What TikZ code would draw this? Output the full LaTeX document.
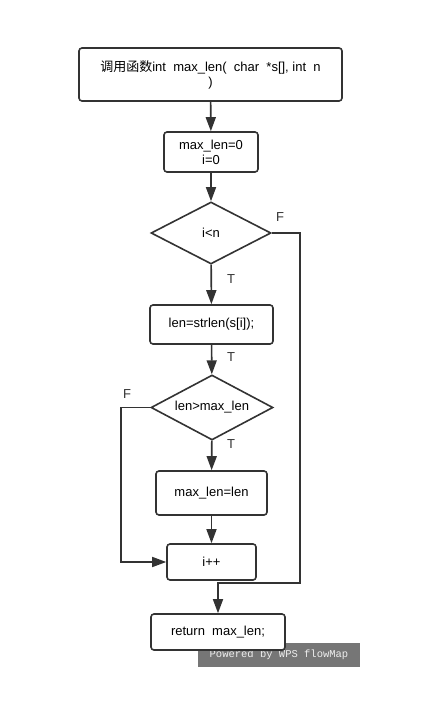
\documentclass[tikz,border=0pt]{standalone}
\usepackage{fontspec}
\setmainfont{Liberation Sans}
\newfontfamily\cjk{Noto Sans CJK SC}
\newfontfamily\wmfont{Liberation Mono}
\usetikzlibrary{arrows.meta,shapes.geometric}
\definecolor{linegray}{RGB}{51,51,51}
\definecolor{wmgray}{RGB}{118,118,118}
\definecolor{wmtext}{RGB}{238,238,238}

\begin{document}
\begin{tikzpicture}[x=1pt,y=-1pt,
    stepbox/.style={draw=linegray,fill=white,line width=1.6pt,rounded corners=3pt,
      align=center,inner sep=0pt,font=\fontsize{13}{15}\selectfont},
    testbox/.style={draw=linegray,fill=white,line width=1.6pt,shape=diamond,aspect=2,
      inner sep=0pt,font=\fontsize{13}{15}\selectfont},
    flow/.style={draw=linegray,line width=1.6pt,-{Triangle[length=14pt,width=10pt]}},
    tf/.style={font=\fontsize{13}{15}\selectfont,text=linegray}]
  \useasboundingbox (0,0) rectangle (422,711);

  % watermark
  \node[fill=wmgray,minimum width=162,minimum height=24,inner sep=0pt,
    text=wmtext,font=\wmfont\fontsize{10.5}{12}\selectfont] (wm) at (279,655) {Powered by WPS flowMap};

  % steps
  \node[stepbox,minimum width=263,minimum height=53] (call) at (210.5,74.5)
    {{\cjk 调用函数}int\ \ max\_len(\ \ char\ \ *s[], int\ \ n\\)};
  \node[stepbox,minimum width=94,minimum height=40] (init) at (211,152) {max\_len=0\\i=0};
  \node[testbox,minimum width=120,minimum height=62] (cond1) at (211,233) {i<n};
  \node[stepbox,minimum width=123,minimum height=39] (len) at (211.5,324.5) {len=strlen(s[i]);};
  \node[testbox,minimum width=122,minimum height=65] (cond2) at (212,407.5) {len>max\_len};
  \node[stepbox,minimum width=111,minimum height=44] (upd) at (211.5,493) {max\_len=len};
  \node[stepbox,minimum width=89,minimum height=36] (inc) at (211.5,562) {i++};
  \node[stepbox,minimum width=134,minimum height=36] (ret) at (218,632) {return\ \ max\_len;};

  % corners of the loops
  \coordinate (loopR) at (300,583);
  \coordinate (loopL) at (121,562);

  % connectors
  \draw[flow] (call) -- (init);
  \draw[flow] (init) -- (cond1);
  \draw[flow] (cond1) -- (len);
  \draw[flow] (len) -- (cond2);
  \draw[flow] (cond2) -- (upd);
  \draw[flow] (upd) -- (inc);
  \draw[flow] (cond2.west) -| (loopL) -- (inc.west);
  \draw[flow] (cond1.east) -| (loopR) -| (ret.north);

  % labels
  \node[tf] (t1) at (231,279) {T};
  \node[tf] (t2) at (231,357) {T};
  \node[tf] (t3) at (231,444) {T};
  \node[tf] (f1) at (280,217) {F};
  \node[tf] (f2) at (127,394) {F};
\end{tikzpicture}
\end{document}
